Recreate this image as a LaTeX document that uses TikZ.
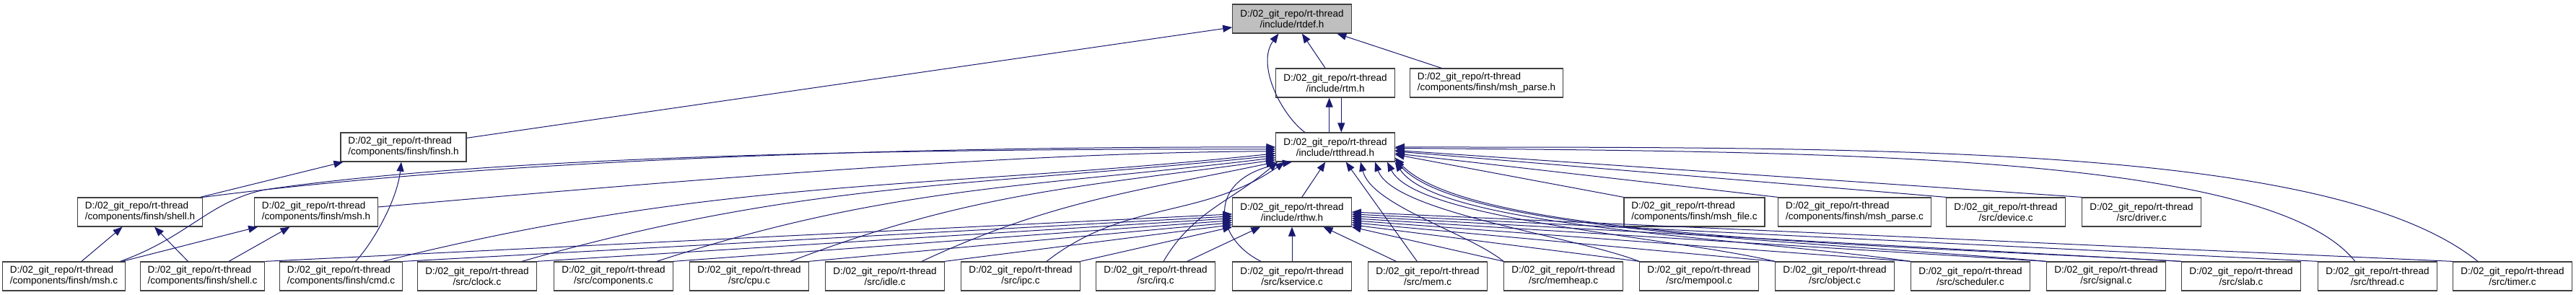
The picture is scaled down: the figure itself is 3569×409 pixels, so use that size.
\documentclass[tikz,border=0pt]{standalone}
\usepackage{fontspec}
\setmainfont{Liberation Sans}
\usetikzlibrary{arrows.meta}
\definecolor{edgeblue}{HTML}{191970}
\definecolor{rootgrey}{gray}{0.75}
\begin{document}
\begin{tikzpicture}[x=1pt,y=1pt,
every node/.style={rectangle,draw=black!75,line width=1.2pt,fill=white,
  minimum height=40pt,inner xsep=10.5pt,inner ysep=0pt,align=center,
  font=\fontsize{13.5}{15}\selectfont},
dep/.style={draw=edgeblue,line width=1pt,-{Triangle[length=13pt,width=10pt]}}]
\useasboundingbox (0,0) rectangle (3569,409);
\node[fill=rootgrey] (rtdef) at (1790,383) {D:/02\_git\_repo/rt-thread\\/include/rtdef.h};
\node (rtm) at (1850,294) {D:/02\_git\_repo/rt-thread\\/include/rtm.h};
\node[align=left] (mshparseh) at (2059.5,294) {D:/02\_git\_repo/rt-thread\\/components/finsh/msh\_parse.h};
\node (rtthread) at (1850,205) {D:/02\_git\_repo/rt-thread\\/include/rtthread.h};
\node[align=left] (finshh) at (559,205) {D:/02\_git\_repo/rt-thread\\/components/finsh/finsh.h};
\node[align=left] (shellh) at (194,115) {D:/02\_git\_repo/rt-thread\\/components/finsh/shell.h};
\node[align=left] (mshh) at (438,115) {D:/02\_git\_repo/rt-thread\\/components/finsh/msh.h};
\node (rthw) at (1790,115) {D:/02\_git\_repo/rt-thread\\/include/rthw.h};
\node[align=left] (mshfilec) at (2347.5,115) {D:/02\_git\_repo/rt-thread\\/components/finsh/msh\_file.c};
\node[align=left] (mshparsec) at (2569.5,115) {D:/02\_git\_repo/rt-thread\\/components/finsh/msh\_parse.c};
\node (devicec) at (2779,115) {D:/02\_git\_repo/rt-thread\\/src/device.c};
\node (driverc) at (2967,115) {D:/02\_git\_repo/rt-thread\\/src/driver.c};
\node[align=left] (mshc) at (88.5,26) {D:/02\_git\_repo/rt-thread\\/components/finsh/msh.c};
\node[align=left] (shellc) at (280.5,26) {D:/02\_git\_repo/rt-thread\\/components/finsh/shell.c};
\node[align=left] (cmdc) at (472.5,26) {D:/02\_git\_repo/rt-thread\\/components/finsh/cmd.c};
\node (clockc) at (661,26) {D:/02\_git\_repo/rt-thread\\/src/clock.c};
\node (componentsc) at (850,26) {D:/02\_git\_repo/rt-thread\\/src/components.c};
\node (cpuc) at (1038,26) {D:/02\_git\_repo/rt-thread\\/src/cpu.c};
\node (idlec) at (1226,26) {D:/02\_git\_repo/rt-thread\\/src/idle.c};
\node (ipcc) at (1414,26) {D:/02\_git\_repo/rt-thread\\/src/ipc.c};
\node (irqc) at (1601,26) {D:/02\_git\_repo/rt-thread\\/src/irq.c};
\node (kservicec) at (1790,26) {D:/02\_git\_repo/rt-thread\\/src/kservice.c};
\node (memc) at (1978,26) {D:/02\_git\_repo/rt-thread\\/src/mem.c};
\node (memheapc) at (2166,26) {D:/02\_git\_repo/rt-thread\\/src/memheap.c};
\node (mempoolc) at (2354,26) {D:/02\_git\_repo/rt-thread\\/src/mempool.c};
\node (objectc) at (2542,26) {D:/02\_git\_repo/rt-thread\\/src/object.c};
\node (schedulerc) at (2730,26) {D:/02\_git\_repo/rt-thread\\/src/scheduler.c};
\node (signalc) at (2918,26) {D:/02\_git\_repo/rt-thread\\/src/signal.c};
\node (slabc) at (3105,26) {D:/02\_git\_repo/rt-thread\\/src/slab.c};
\node (threadc) at (3294,26) {D:/02\_git\_repo/rt-thread\\/src/thread.c};
\node (timerc) at (3481,26) {D:/02\_git\_repo/rt-thread\\/src/timer.c};
\draw[dep] (finshh) -- (rtdef);
\draw[dep] (rtthread.154) .. controls (1775,250) and (1740,320) .. (rtdef.228);
\draw[dep] (rtm) -- (rtdef);
\draw[dep] (mshparseh) -- (rtdef);
\draw[dep] (rtthread.112) -- (rtm.248);
\draw[dep] (rtm.292) -- (rtthread.68);
\draw[dep] (shellh) -- (finshh);
\draw[dep] ([xshift=20pt]cmdc.north) .. controls (515,70) and (550,130) .. ([xshift=-3pt]finshh.south);
\draw[dep] (mshc) -- (shellh);
\draw[dep] (mshc) -- (mshh);
\draw[dep] (shellc) -- (shellh);
\draw[dep] (shellc) -- (mshh);
\draw[dep] (shellh.north east) .. controls (700,190) and (1300,206) .. (rtthread.180);
\draw[dep] ([xshift=78pt]mshc.north) .. controls (260,80) and (290,130) .. (367,146) .. controls (700,195) and (1300,203) .. (rtthread.182);
\draw[dep] ([yshift=7pt]mshh.east) .. controls (900,155) and (1400,198) .. (rtthread.184);
\draw[dep] ([xshift=58pt]cmdc.north) .. controls +(472,118) and +(-483,-51) .. (rtthread.186);
\draw[dep] ([xshift=62pt]clockc.north) .. controls +(395,113) and +(-409,-43) .. (rtthread.188);
\draw[dep] ([xshift=60pt]componentsc.north) .. controls +(322,105) and +(-336,-41) .. (rtthread.190);
\draw[dep] ([xshift=57pt]cpuc.north) .. controls +(250,96) and +(-265,-37) .. (rtthread.192);
\draw[dep] ([xshift=51pt]idlec.north) .. controls +(180,84) and +(-195,-41) .. (rtthread.south west);
\draw[dep] ([xshift=36pt]ipcc.north) .. controls +(110,86) and +(-115,-80) .. ([xshift=-70pt]rtthread.south);
\draw[dep] ([xshift=11pt]irqc.north) .. controls (1652,115) and (1703,128) .. ([xshift=-80pt]rtthread.south);
\draw[dep] ([xshift=-43pt]kservicec.north) .. controls (1680,80) and (1670,165) .. ([xshift=-60pt]rtthread.south);
\draw[dep] (rthw) -- (rtthread);
\draw[dep] (memc) -- (rtthread);
\draw[dep] (shellc.north east) -- (rthw.182);
\draw[dep] (cmdc.north east) -- (rthw.184);
\draw[dep] (clockc.north east) -- (rthw.186);
\draw[dep] (componentsc.north east) -- (rthw.188);
\draw[dep] (cpuc.north east) -- (rthw.190);
\draw[dep] (idlec.north east) -- (rthw.192);
\draw[dep] (ipcc.north east) -- (rthw.south west);
\draw[dep] (irqc) -- (rthw);
\draw[dep] (kservicec) -- (rthw);
\draw[dep] (memc) -- (rthw);
\draw[dep] (memheapc.north west) -- (rthw.south east);
\draw[dep] (mempoolc.north west) -- (rthw.-12);
\draw[dep] (objectc.north west) -- (rthw.-10);
\draw[dep] (schedulerc.north west) -- (rthw.-8);
\draw[dep] (signalc.north west) -- (rthw.-6);
\draw[dep] (slabc.north west) -- (rthw.-4);
\draw[dep] (threadc.north west) -- (rthw.-2);
\draw[dep] (timerc.north west) -- (rthw.0);
\draw[dep] (mshfilec.north west) -- (rtthread.-7.5);
\draw[dep] (mshparsec.north west) -- (rtthread.-6);
\draw[dep] (devicec.north west) -- (rtthread.-4.5);
\draw[dep] (driverc.north west) -- (rtthread.-3);
\draw[dep] ([xshift=-31pt]threadc.north) .. controls +(-120,150) and +(600,-5) .. (rtthread.-1.5);
\draw[dep] ([xshift=-48pt]timerc.north) .. controls +(-200,160) and +(700,0) .. (rtthread.0);
\draw[dep] (memheapc.north west) .. controls +(-50,40) and +(15,-60) .. ([xshift=35pt]rtthread.south);
\draw[dep] (mempoolc.north west) .. controls +(-90,35) and +(25,-70) .. ([xshift=55pt]rtthread.south);
\draw[dep] (objectc.north west) .. controls +(-150,35) and +(40,-80) .. ([xshift=72pt]rtthread.south);
\draw[dep] (schedulerc.north west) .. controls +(-250,35) and +(60,-90) .. (rtthread.south east);
\draw[dep] (signalc.north west) .. controls +(-350,30) and +(90,-100) .. (rtthread.-12);
\draw[dep] (slabc.north west) .. controls +(-450,25) and +(100,-110) .. (rtthread.-10);
\end{tikzpicture}
\end{document}
